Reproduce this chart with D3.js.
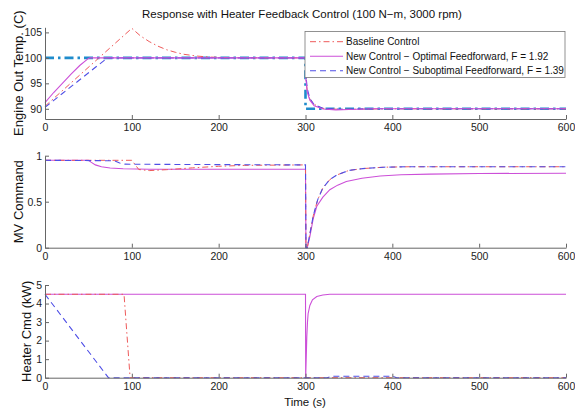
<!DOCTYPE html>
<html lang="en">
<head>
    <meta charset="UTF-8">
    <title>Response with Heater Feedback Control</title>
    <script src="https://d3js.org/d3.v7.min.js"></script>
    <style>
        body { margin: 0; background: #fff; }
        svg { display: block; font-family: "Liberation Sans", Arial, sans-serif; }
        .axis path, .axis line { stroke: #666; }
        .axis text { font-size: 10.5px; fill: #222; }
        .ylabel { font-size: 13px; fill: #111; }
        .xlabel { font-size: 11.5px; fill: #111; }
        .title { font-size: 11.5px; fill: #111; }
        .legend text { font-size: 10px; fill: #111; }
    </style>
</head>
<body>
    <svg id="chart" width="575" height="411"></svg>

    <script>
        // --- data: [time (s), value] ---
        const xTicks = [0, 100, 200, 300, 400, 500, 600];

        // engine out temperature (C)
        const setpointTemp = [[0, 100], [300, 100], [300, 90], [600, 90]];
        const baselineTemp = [[0, 90.5], [100, 105.8], [110, 104.3], [120, 103.2], [130, 102.3], [140, 101.6],
            [150, 101.1], [160, 100.7], [175, 100.35], [190, 100.15], [210, 100.05], [250, 100], [300, 100],
            [300.5, 96], [302, 93.5], [305, 91.9], [310, 90.9], [315, 90.4], [320, 90.1], [330, 89.95],
            [345, 89.9], [370, 89.95], [400, 90], [600, 90]];
        const optimalTemp = [[0, 91.2], [10, 93.2], [20, 95], [30, 96.8], [40, 98.5], [50, 99.9], [52, 100],
            [300, 100], [300.5, 95.8], [302, 93.3], [305, 91.7], [310, 90.6], [320, 89.95], [335, 89.8],
            [350, 89.85], [380, 90], [600, 90]];
        const suboptimalTemp = [[0, 90.3], [20, 93], [40, 95.7], [60, 98.4], [72, 100], [300, 100],
            [300.5, 96.5], [302, 94], [305, 92], [310, 90.8], [320, 90.1], [340, 89.9], [370, 90], [600, 90]];

        // MV command
        const baselineMV = [[0, 0.95], [100, 0.95], [104, 0.9], [108, 0.85], [120, 0.838], [140, 0.848],
            [170, 0.868], [200, 0.885], [230, 0.895], [300, 0.9], [300.5, 0], [302, 0], [303, 0.05],
            [306, 0.2], [309, 0.35], [314, 0.52], [320, 0.65], [328, 0.74], [336, 0.79], [350, 0.84],
            [366, 0.86], [390, 0.875], [420, 0.88], [600, 0.88]];
        const optimalMV = [[0, 0.95], [50, 0.95], [53, 0.93], [58, 0.9], [65, 0.88], [75, 0.866], [90, 0.858],
            [120, 0.853], [300, 0.852], [300.5, 0], [302, 0], [305, 0.12], [309, 0.32], [313, 0.45],
            [320, 0.55], [328, 0.63], [337, 0.68], [347, 0.72], [365, 0.755], [386, 0.78], [410, 0.793],
            [443, 0.8], [500, 0.806], [600, 0.81]];
        const suboptimalMV = [[0, 0.95], [80, 0.945], [86, 0.92], [92, 0.908], [150, 0.905], [300, 0.9],
            [300.5, 0], [302, 0], [303, 0.05], [306, 0.2], [309, 0.35], [314, 0.52], [320, 0.65], [328, 0.74],
            [336, 0.79], [350, 0.84], [366, 0.86], [390, 0.875], [420, 0.88], [600, 0.88]];

        // heater command (kW)
        const baselineHeat = [[0, 4.5], [91, 4.5], [98, 0], [600, 0]];
        const optimalHeat = [[0, 4.5], [300, 4.5], [300.2, 0], [300.8, 1], [301.5, 2.2], [302.3, 3],
            [303, 3.45], [305, 3.9], [308, 4.2], [313, 4.38], [320, 4.46], [328, 4.5], [600, 4.5]];
        const suboptimalHeat = [[0, 4.5], [73, 0], [325, 0], [330, 0.08], [400, 0.08], [405, 0], [600, 0]];

        const legendLabels = ["Baseline Control",
            "New Control \u2212 Optimal Feedforward, F = 1.92",
            "New Control \u2212 Suboptimal Feedforward, F = 1.39"];

        // --- styles ---
        const styles = {
            setpoint: { color: "#1f8ccc", width: 2.6, dash: "9,4,2.5,4" },
            baseline: { color: "#ee5a5a", width: 1, dash: "6,3,1.5,3" },
            optimal: { color: "#cc4fd8", width: 1.1, dash: null },
            suboptimal: { color: "#4f4fe6", width: 1.1, dash: "6,4" }
        };

        const svg = d3.select("#chart");
        const x = d3.scaleLinear().domain([0, 600]).range([45, 566]);

        const panels = [
            { domain: [88, 106], range: [119, 27.3], ticks: [90, 95, 100, 105], label: "Engine Out Temp. (C)", lx: 18,
              series: [["setpoint", setpointTemp], ["baseline", baselineTemp], ["suboptimal", suboptimalTemp], ["optimal", optimalTemp]] },
            { domain: [0, 1], range: [247.7, 155.7], ticks: [0, 0.5, 1], label: "MV Command", lx: 18,
              series: [["optimal", optimalMV], ["baseline", baselineMV], ["suboptimal", suboptimalMV]] },
            { domain: [0, 5], range: [377.7, 285], ticks: [0, 1, 2, 3, 4, 5], label: "Heater Cmd (kW)", lx: 26,
              series: [["optimal", optimalHeat], ["baseline", baselineHeat], ["suboptimal", suboptimalHeat]] }
        ];

        panels.forEach(p => {
            const y = d3.scaleLinear().domain(p.domain).range(p.range);
            const g = svg.append("g");

            const line = d3.line().x(d => x(d[0])).y(d => y(d[1]));
            p.series.forEach(([key, data]) => {
                const s = styles[key];
                g.append("path")
                    .datum(data)
                    .attr("d", line)
                    .attr("fill", "none")
                    .attr("stroke", s.color)
                    .attr("stroke-width", s.width)
                    .attr("stroke-dasharray", s.dash);
            });

            // axes (MATLAB style: inward ticks, no box)
            g.append("g")
                .attr("class", "axis")
                .attr("transform", `translate(0,${p.range[0]})`)
                .call(d3.axisBottom(x).tickValues(xTicks).tickFormat(d => d)
                    .tickSizeInner(-4).tickSizeOuter(0).tickPadding(5));

            g.append("g")
                .attr("class", "axis")
                .attr("transform", `translate(${x(0)},0)`)
                .call(d3.axisLeft(y).tickValues(p.ticks).tickFormat(d => d)
                    .tickSizeInner(-4).tickSizeOuter(0).tickPadding(3));

            svg.append("text")
                .attr("class", "ylabel")
                .attr("transform", `translate(${p.lx},${(p.range[0] + p.range[1]) / 2}) rotate(-90)`)
                .attr("text-anchor", "middle")
                .attr("dy", "0.35em")
                .text(p.label);
        });

        svg.append("text")
            .attr("class", "title")
            .attr("x", 302)
            .attr("y", 18)
            .attr("text-anchor", "middle")
            .text("Response with Heater Feedback Control (100 N\u2212m, 3000 rpm)");

        svg.append("text")
            .attr("class", "xlabel")
            .attr("x", 305)
            .attr("y", 406)
            .attr("text-anchor", "middle")
            .text("Time (s)");

        // legend
        const leg = svg.append("g").attr("class", "legend");
        leg.append("rect")
            .attr("x", 305).attr("y", 31.5)
            .attr("width", 260).attr("height", 46)
            .attr("fill", "#fff")
            .attr("stroke", "#777")
            .attr("stroke-width", 0.8);
        ["baseline", "optimal", "suboptimal"].forEach((key, i) => {
            const s = styles[key];
            const ly = 41.7 + i * 14.5;
            leg.append("line")
                .attr("x1", 310).attr("x2", 343)
                .attr("y1", ly).attr("y2", ly)
                .attr("stroke", s.color)
                .attr("stroke-width", s.width)
                .attr("stroke-dasharray", s.dash);
            leg.append("text")
                .attr("x", 346)
                .attr("y", ly)
                .attr("dy", "0.35em")
                .text(legendLabels[i]);
        });
    </script>
</body>
</html>
